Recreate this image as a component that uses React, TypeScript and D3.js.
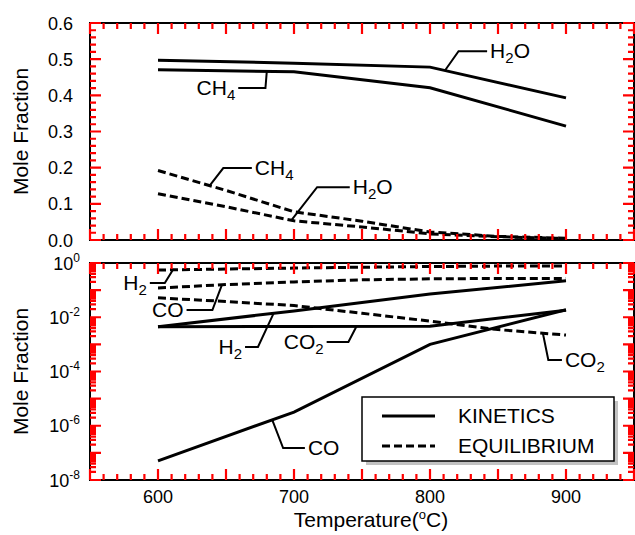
import * as d3 from "d3";
import { useEffect, useRef } from "react";

// temperatures (°C)
const temps = [600, 700, 800, 900];
const eqTemps = [600, 650, 700, 750, 800, 850, 900];

// upper panel, linear mole fraction
const h2oKinetics = [0.497, 0.489, 0.478, 0.393];
const ch4Kinetics = [0.471, 0.465, 0.421, 0.315];
const ch4Equilibrium = [0.192, 0.137, 0.078, 0.052, 0.022, 0.01, 0.005];
const h2oEquilibrium = [0.128, 0.092, 0.053, 0.036, 0.017, 0.009, 0.004];

// lower panel, log mole fraction
const h2Kinetics = [4.5e-3, 0.017, 0.072, 0.22];
const co2Kinetics = [4.5e-3, 4.6e-3, 4.7e-3, 0.018];
const coKinetics = [5.1e-8, 3.2e-6, 1.0e-3, 0.019];
const h2Equilibrium = [0.55, 0.6, 0.65, 0.7, 0.74, 0.77, 0.78];
const coEquilibrium = [0.12, 0.16, 0.2, 0.24, 0.26, 0.27, 0.27];
const co2Equilibrium = [0.052, 0.038, 0.027, 0.014, 0.0072, 0.0035, 0.0022];

const xTickLabels = [600, 700, 800, 900];
const topTickLabels = [0, 0.1, 0.2, 0.3, 0.4, 0.5, 0.6];
const logLabelExps = [0, -2, -4, -6, -8];

const legendItems = ["KINETICS", "EQUILIBRIUM"];

const FONT = '"Liberation Sans", Arial, Helvetica, sans-serif';

type Note = {
  label: string;
  ts: number[];
  vals: number[];
  log: boolean;
  anchorT: number;
  kneeT: number;
  kneeV: number;
  endT: number;
  side: "left" | "right";
};

// leader-line labels, placed in data units
const notes: Note[] = [
  { label: "H_2O", ts: temps, vals: h2oKinetics, log: false, anchorT: 811, kneeT: 821, kneeV: 0.522, endT: 842, side: "right" },
  { label: "CH_4", ts: temps, vals: ch4Kinetics, log: false, anchorT: 680, kneeT: 679, kneeV: 0.42, endT: 659, side: "left" },
  { label: "CH_4", ts: eqTemps, vals: ch4Equilibrium, log: false, anchorT: 638, kneeT: 648, kneeV: 0.199, endT: 669, side: "right" },
  { label: "H_2O", ts: eqTemps, vals: h2oEquilibrium, log: false, anchorT: 698, kneeT: 717, kneeV: 0.146, endT: 741, side: "right" },
  { label: "H_2", ts: eqTemps, vals: h2Equilibrium, log: true, anchorT: 611, kneeT: 605, kneeV: 0.183, endT: 594, side: "left" },
  { label: "CO", ts: eqTemps, vals: coEquilibrium, log: true, anchorT: 647, kneeT: 640, kneeV: 0.0185, endT: 621, side: "left" },
  { label: "H_2", ts: temps, vals: h2Kinetics, log: true, anchorT: 685, kneeT: 673.5, kneeV: 8e-4, endT: 664, side: "left" },
  { label: "CO_2", ts: temps, vals: co2Kinetics, log: true, anchorT: 746, kneeT: 740, kneeV: 1.22e-3, endT: 724, side: "left" },
  { label: "CO_2", ts: eqTemps, vals: co2Equilibrium, log: true, anchorT: 883, kneeT: 887, kneeV: 2.65e-4, endT: 897, side: "right" },
  { label: "CO", ts: temps, vals: coKinetics, log: true, anchorT: 684, kneeT: 692, kneeV: 1.5e-7, endT: 708, side: "right" },
];

const x = d3.scaleLinear().domain([550, 950]).range([90, 634]);
const yTop = d3.scaleLinear().domain([0, 0.6]).range([240, 23]);
const yBot = d3.scaleLog().domain([1e-8, 1]).range([480, 263]);
const X0 = 90;
const X1 = 634;

function interp(ts: number[], vals: number[], t: number, log: boolean) {
  let i = 0;
  while (i < ts.length - 2 && t > ts[i + 1]) i++;
  const f = (t - ts[i]) / (ts[i + 1] - ts[i]);
  if (log) {
    const a = Math.log10(vals[i]);
    const b = Math.log10(vals[i + 1]);
    return 10 ** (a + f * (b - a));
  }
  return vals[i] + f * (vals[i + 1] - vals[i]);
}

function addLabel(text: any, label: string) {
  const parts = label.split("_");
  text.append("tspan").text(parts[0]);
  if (parts.length > 1) {
    text.append("tspan").attr("dy", 5).attr("font-size", 15).text(parts[1][0]);
    if (parts[1].length > 1) text.append("tspan").attr("dy", -5).text(parts[1].slice(1));
  }
}

// every inward tick mark of both panels
function buildTicks() {
  const majorX = d3.range(550, 951, 50);
  const minorX = d3.range(550, 951, 10).filter((t) => t % 50 !== 0);
  const segs: string[] = [];
  const horiz = (vals: number[], yEdge: number, len: number) =>
    vals.forEach((d) => segs.push(`M${x(d)} ${yEdge}L${x(d)} ${yEdge + len}`));
  const vert = (vals: number[], y: (d: number) => number, xEdge: number, len: number) =>
    vals.forEach((d) => segs.push(`M${xEdge} ${y(d)}L${xEdge + len} ${y(d)}`));

  [yTop, yBot].forEach((y) => {
    const [b, t] = y.range();
    horiz(majorX, b, -11);
    horiz(minorX, b, -6);
    horiz(majorX, t, 11);
    horiz(minorX, t, 6);
  });

  const topMajor = d3.range(0, 7).map((i) => i / 10);
  const topMinor = d3.range(0, 31).filter((i) => i % 5 !== 0).map((i) => i / 50);
  vert(topMajor, yTop, X0, 11);
  vert(topMinor, yTop, X0, 6);
  vert(topMajor, yTop, X1, -11);
  vert(topMinor, yTop, X1, -6);

  const logMajor = d3.range(-8, 1).map((e) => 10 ** e);
  const logMinor: number[] = [];
  d3.range(-8, 0).forEach((e) => d3.range(2, 10).forEach((m) => logMinor.push(m * 10 ** e)));
  vert(logMajor, yBot, X0, 11);
  vert(logMinor, yBot, X0, 6);
  vert(logMajor, yBot, X1, -11);
  vert(logMinor, yBot, X1, -6);
  return segs.join("");
}

export default function App() {
  const gRef = useRef<SVGGElement>(null);
  const tickD = buildTicks();

  useEffect(() => {
    const svg = d3.select(gRef.current);
    svg.selectAll("*").remove();

    xTickLabels.forEach((t) => {
      svg.append("text")
        .attr("x", x(t)).attr("y", 503)
        .attr("text-anchor", "middle")
        .attr("font-family", FONT).attr("font-size", 18)
        .text(t);
    });
    topTickLabels.forEach((v) => {
      svg.append("text")
        .attr("x", 73).attr("y", yTop(v) + 6.5)
        .attr("text-anchor", "end")
        .attr("font-family", FONT).attr("font-size", 18)
        .text(d3.format(".1f")(v));
    });
    logLabelExps.forEach((e) => {
      const t = svg.append("text")
        .attr("x", 80).attr("y", yBot(10 ** e) + 6.5)
        .attr("text-anchor", "end")
        .attr("font-family", FONT).attr("font-size", 18);
      t.append("tspan").text("10");
      t.append("tspan").attr("dy", -8).attr("font-size", 12).text(String(e));
    });

    [yTop, yBot].forEach((y) => {
      const [b, t] = y.range();
      svg.append("text")
        .attr("transform", `translate(28,${(b + t) / 2}) rotate(-90)`)
        .attr("text-anchor", "middle")
        .attr("font-family", FONT).attr("font-size", 21)
        .text("Mole Fraction");
    });
    const xt = svg.append("text")
      .attr("x", 371).attr("y", 527)
      .attr("text-anchor", "middle")
      .attr("font-family", FONT).attr("font-size", 21);
    xt.append("tspan").text("Temperature(");
    xt.append("tspan").attr("dy", -8).attr("font-size", 13).text("o");
    xt.append("tspan").attr("dy", 8).text("C)");

    const drawSeries = (ts: number[], vals: number[], y: any, dashed: boolean) => {
      const line = d3.line<number>().x((_, i) => x(ts[i])).y((d) => y(d));
      svg.append("path")
        .attr("d", line(vals))
        .attr("fill", "none")
        .attr("stroke", "#000")
        .attr("stroke-width", 3)
        .attr("stroke-dasharray", dashed ? "8,4" : null);
    };
    drawSeries(temps, h2oKinetics, yTop, false);
    drawSeries(temps, ch4Kinetics, yTop, false);
    drawSeries(eqTemps, ch4Equilibrium, yTop, true);
    drawSeries(eqTemps, h2oEquilibrium, yTop, true);
    drawSeries(temps, h2Kinetics, yBot, false);
    drawSeries(temps, co2Kinetics, yBot, false);
    drawSeries(temps, coKinetics, yBot, false);
    drawSeries(eqTemps, h2Equilibrium, yBot, true);
    drawSeries(eqTemps, coEquilibrium, yBot, true);
    drawSeries(eqTemps, co2Equilibrium, yBot, true);

    notes.forEach((n) => {
      const y = n.log ? yBot : yTop;
      const av = interp(n.ts, n.vals, n.anchorT, n.log);
      const path = d3.path();
      path.moveTo(x(n.anchorT), y(av));
      path.lineTo(x(n.kneeT), y(n.kneeV));
      path.lineTo(x(n.endT), y(n.kneeV));
      svg.append("path")
        .attr("d", path.toString())
        .attr("fill", "none").attr("stroke", "#000").attr("stroke-width", 2);
      const t = svg.append("text")
        .attr("x", x(n.endT) + (n.side === "right" ? 3 : -3))
        .attr("y", y(n.kneeV) + 7)
        .attr("text-anchor", n.side === "right" ? "start" : "end")
        .attr("font-family", FONT).attr("font-size", 21);
      addLabel(t, n.label);
    });

    // legend with an offset grey shadow
    const legend = svg.append("g").attr("transform", "translate(362,397)");
    legend.append("rect")
      .attr("x", 4).attr("y", 4)
      .attr("width", 252).attr("height", 64)
      .attr("fill", "#999").attr("opacity", 0.6);
    legend.append("rect")
      .attr("width", 252).attr("height", 64)
      .attr("fill", "#fff").attr("stroke", "#000").attr("stroke-width", 1.5);
    legendItems.forEach((name, i) => {
      legend.append("line")
        .attr("x1", 20).attr("x2", 73)
        .attr("y1", 19 + i * 30).attr("y2", 19 + i * 30)
        .attr("stroke", "#000").attr("stroke-width", 3)
        .attr("stroke-dasharray", i === 1 ? "8,4" : null);
      legend.append("text")
        .attr("x", 96).attr("y", 26 + i * 30)
        .attr("font-family", FONT).attr("font-size", 21)
        .text(name);
    });
  }, []);

  return (
    <svg
      width={635}
      height={535}
      style={{ position: "absolute", left: 0, top: 0, background: "#fff" }}
    >
      {[yTop, yBot].map((y, i) => {
        const [b, t] = y.range();
        return (
          <rect key={i} x={X0} y={t} width={X1 - X0} height={b - t} fill="none" stroke="#000" strokeWidth={2} />
        );
      })}
      <g ref={gRef} />
      <path d={tickD} fill="none" stroke="red" strokeWidth={2.2} />
    </svg>
  );
}
